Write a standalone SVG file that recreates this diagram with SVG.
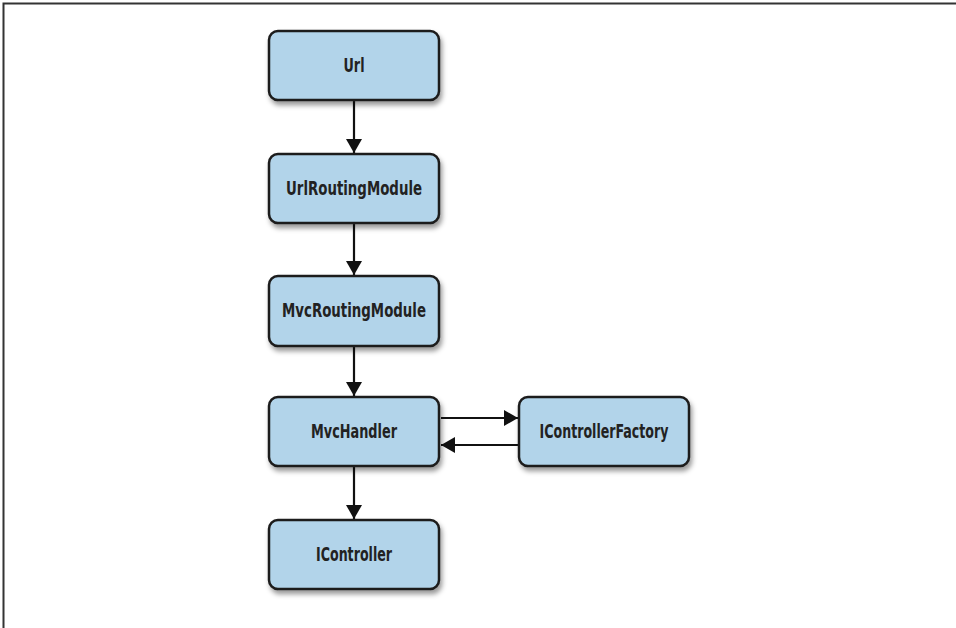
<svg xmlns="http://www.w3.org/2000/svg" width="956" height="628" viewBox="0 0 956 628">
<style>
.box{fill:#b2d4ea;stroke:#1a1a1a;stroke-width:2.5}
.lbl{font-family:"DejaVu Sans Condensed","Liberation Sans",sans-serif;font-weight:bold;font-size:19px;fill:#222;text-anchor:middle;dominant-baseline:central}
.edge{stroke:#111;stroke-width:2.2;fill:none;marker-end:url(#ah)}
</style>
<defs>
<filter id="sh" x="-10%" y="-10%" width="130%" height="140%">
<feDropShadow dx="2" dy="4" stdDeviation="2.5" flood-color="#000" flood-opacity="0.4"/>
</filter>
<marker id="ah" viewBox="0 0 14 16" refX="14" refY="8" markerWidth="14" markerHeight="16" markerUnits="userSpaceOnUse" orient="auto">
<path d="M0,0 L14,8 L0,16 Z" fill="#111"/>
</marker>
</defs>
<rect width="956" height="628" fill="#fff"/>
<path d="M3.5,628 V3.5 H956" fill="none" stroke="#333" stroke-width="2"/>
<g id="connectors">
<line class="edge" x1="354" y1="101" x2="354" y2="153"/>
<line class="edge" x1="354" y1="224" x2="354" y2="275"/>
<line class="edge" x1="354" y1="347" x2="354" y2="396"/>
<line class="edge" x1="441" y1="418" x2="518" y2="418"/>
<line class="edge" x1="519" y1="445" x2="441" y2="445"/>
<line class="edge" x1="354" y1="467" x2="354" y2="519"/>
</g>
<g id="url"><rect class="box" filter="url(#sh)" x="269" y="31" width="170" height="69" rx="9"/><text class="lbl" x="354" y="65" textLength="21" lengthAdjust="spacingAndGlyphs">Url</text></g>
<g id="urlroutingmodule"><rect class="box" filter="url(#sh)" x="269" y="154" width="170" height="69" rx="9"/><text class="lbl" x="354" y="188" textLength="136" lengthAdjust="spacingAndGlyphs">UrlRoutingModule</text></g>
<g id="mvcroutingmodule"><rect class="box" filter="url(#sh)" x="269" y="276" width="170" height="70" rx="9"/><text class="lbl" x="354" y="310" textLength="144" lengthAdjust="spacingAndGlyphs">MvcRoutingModule</text></g>
<g id="mvchandler"><rect class="box" filter="url(#sh)" x="269" y="397" width="170" height="69" rx="9"/><text class="lbl" x="354" y="431" textLength="86" lengthAdjust="spacingAndGlyphs">MvcHandler</text></g>
<g id="icontrollerfactory"><rect class="box" filter="url(#sh)" x="519" y="397" width="170" height="69" rx="9"/><text class="lbl" x="604" y="431" textLength="129" lengthAdjust="spacingAndGlyphs">IControllerFactory</text></g>
<g id="icontroller"><rect class="box" filter="url(#sh)" x="269" y="520" width="170" height="69" rx="9"/><text class="lbl" x="354" y="554" textLength="76" lengthAdjust="spacingAndGlyphs">IController</text></g>
</svg>
